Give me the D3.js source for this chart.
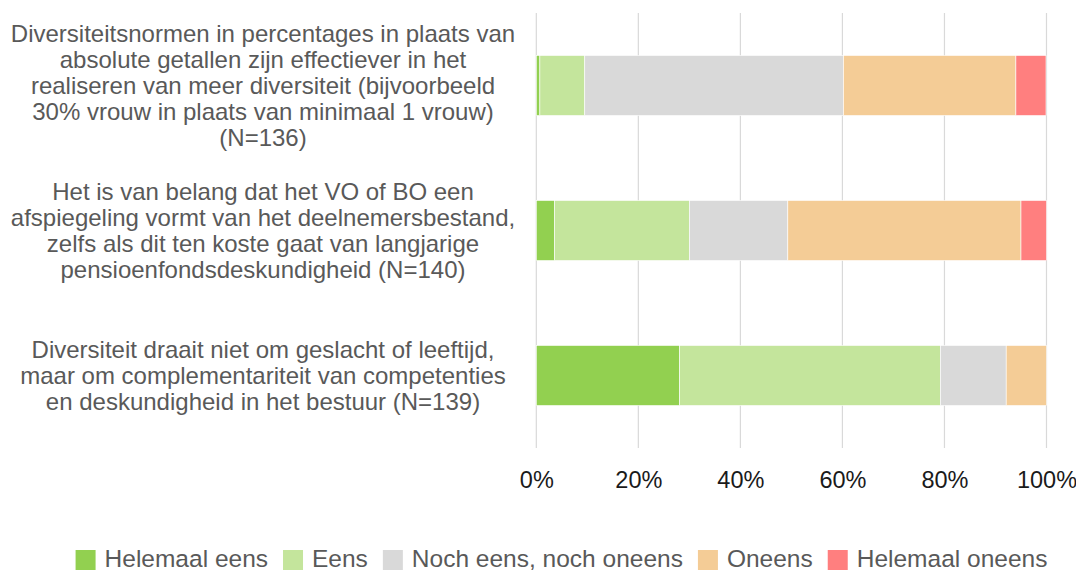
<!DOCTYPE html>
<html>
<head>
<meta charset="utf-8">
<script src="https://cdn.jsdelivr.net/npm/d3@7"></script>
<style>
  body { margin: 0; background: #fff; }
  text { font-family: "Liberation Sans", Arial, sans-serif; }
</style>
</head>
<body>
<div id="chart"></div>
<script>
// set up chart
var svgWidth = 1076;
var svgHeight = 574;

// category labels, already broken into lines like the original
var categories = ["stmt1", "stmt2", "stmt3"];
var categoryLines = [
  ["Diversiteitsnormen in percentages in plaats van",
   "absolute getallen zijn effectiever in het",
   "realiseren van meer diversiteit (bijvoorbeeld",
   "30% vrouw in plaats van minimaal 1 vrouw)",
   "(N=136)"],
  ["Het is van belang dat het VO of BO een",
   "afspiegeling vormt van het deelnemersbestand,",
   "zelfs als dit ten koste gaat van langjarige",
   "pensioenfondsdeskundigheid (N=140)"],
  ["Diversiteit draait niet om geslacht of leeftijd,",
   "maar om complementariteit van competenties",
   "en deskundigheid in het bestuur (N=139)"]
];

// series (percentage of respondents per statement)
var seriesNames = ["Helemaal eens", "Eens", "Noch eens, noch oneens", "Oneens", "Helemaal oneens"];
var helemaalEens   = [0.7, 3.6, 28.1];
var eens           = [8.8, 26.4, 51.1];
var noch           = [50.7, 19.3, 12.9];
var oneens         = [33.8, 45.7, 7.9];
var helemaalOneens = [5.9, 5.0, 0.0];

var tickValues = [0, 20, 40, 60, 80, 100];
var colors = ["#92d050", "#c4e59c", "#d9d9d9", "#f4cc96", "#ff7f7f"];

// build rows for the stack layout
var rows = categories.map(function(c, i) {
  return {
    cat: c,
    "Helemaal eens": helemaalEens[i],
    "Eens": eens[i],
    "Noch eens, noch oneens": noch[i],
    "Oneens": oneens[i],
    "Helemaal oneens": helemaalOneens[i]
  };
});

var svg = d3.select("#chart")
  .append("svg")
  .attr("width", svgWidth)
  .attr("height", svgHeight);

var xScale = d3.scaleLinear()
  .domain([0, 100])
  .range([536.3, 1046.5]);

var yScale = d3.scaleBand()
  .domain(categories)
  .range([13, 448])
  .paddingInner(0.586)
  .paddingOuter(0.293);

// gridlines
svg.append("g")
  .selectAll("line")
  .data(tickValues)
  .enter()
  .append("line")
  .attr("x1", d => xScale(d))
  .attr("x2", d => xScale(d))
  .attr("y1", 13)
  .attr("y2", 448)
  .attr("stroke", "#d9d9d9")
  .attr("stroke-width", 1.2);

// x axis labels
var xAxis = d3.axisBottom(xScale)
  .tickValues(tickValues)
  .tickFormat(d => d + "%")
  .tickSize(0)
  .tickPadding(0);

var xAxisG = svg.append("g")
  .attr("transform", "translate(0, 471)")
  .call(xAxis);
xAxisG.select(".domain").remove();
xAxisG.selectAll("text")
  .attr("dy", null)
  .attr("y", 17)
  .style("font-size", "23.5px")
  .style("font-family", "'Liberation Sans', Arial, sans-serif")
  .attr("fill", "#1a1a1a");

// stacked bars
var stack = d3.stack().keys(seriesNames);
var stacked = stack(rows);

var layers = svg.append("g")
  .selectAll("g")
  .data(stacked)
  .enter()
  .append("g")
  .attr("fill", (d, i) => colors[i]);

layers.selectAll("rect")
  .data(d => d)
  .enter()
  .append("rect")
  .attr("x", d => xScale(d[0]))
  .attr("width", d => Math.max(0, xScale(d[1]) - xScale(d[0])))
  .attr("y", d => yScale(d.data.cat))
  .attr("height", yScale.bandwidth())
  .attr("stroke", "#fff")
  .attr("stroke-width", 0.6);

// category labels on the left
var lineHeight = 26;
var catLabels = svg.append("g");
categories.forEach(function(c, i) {
  var lines = categoryLines[i];
  var mid = yScale(c) + yScale.bandwidth() / 2 + 8.5;
  var t = catLabels.append("text")
    .attr("text-anchor", "middle")
    .attr("fill", "#595959")
    .style("font-size", "24px");
  lines.forEach(function(line, j) {
    t.append("tspan")
      .attr("x", 263)
      .attr("y", mid + (j - (lines.length - 1) / 2) * lineHeight)
      .text(line);
  });
});

// legend
var legend = svg.append("g");
var boxSize = 20;
var boxGap = 9;
var itemGap = 15;
var cursor = 0;
seriesNames.forEach(function(name, i) {
  var g = legend.append("g");
  g.append("rect")
    .attr("x", 0)
    .attr("y", 550)
    .attr("width", boxSize)
    .attr("height", boxSize)
    .attr("fill", colors[i]);
  var txt = g.append("text")
    .attr("x", boxSize + boxGap)
    .attr("y", 567)
    .attr("fill", "#595959")
    .style("font-size", "24.5px")
    .text(name);
  var w = txt.node().getComputedTextLength();
  g.attr("transform", "translate(" + cursor + ",0)");
  cursor += boxSize + boxGap + w + itemGap;
});
var legendWidth = cursor - itemGap;
legend.attr("transform", "translate(" + (561.5 - legendWidth / 2) + ",0)");
</script>
</body>
</html>
